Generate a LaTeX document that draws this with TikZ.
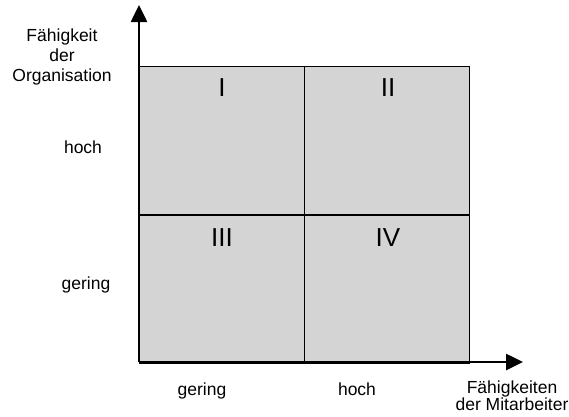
\documentclass[tikz,border=0pt]{standalone}
\usepackage{fontspec}
\setmainfont{Liberation Sans}
\usetikzlibrary{arrows.meta}
\begin{document}
\begin{tikzpicture}[x=1pt,y=-1pt,
  cell/.style={draw=black, line width=0.9pt, fill=cellgray, minimum width=165pt, minimum height=148pt, inner sep=0pt, anchor=north west},
  axis/.style={line width=2.6pt, -{Triangle[length=17pt,width=16pt]}},
  lbl/.style={font=\fontsize{17.5}{20}\selectfont, align=center, inner sep=0pt},
  num/.style={font=\fontsize{26}{30}\selectfont, inner sep=0pt}]
\definecolor{cellgray}{RGB}{212,212,212}
\useasboundingbox (0,0) rectangle (569,416);
\node[cell] (c1) at (139,66) {};
\node[cell] (c2) at (304,66) {};
\node[cell] (c3) at (139,215) {};
\node[cell] (c4) at (304,215) {};
\node[num] (n1) at (222,88) {I};
\node[num] (n2) at (388,88) {II};
\node[num] (n3) at (222,237.5) {III};
\node[num] (n4) at (388,237.5) {IV};
\coordinate (o) at (139,362);
\coordinate (xt) at (523,362);
\coordinate (yt) at (139,5);
\draw[axis] (o) -- (xt);
\draw[axis] (o) -- (yt);
\node[lbl] (yl) at (62,57) {Fähigkeit\\der\\Organisation};
\node[lbl, anchor=base] (yh) at (83,153) {hoch};
\node[lbl, anchor=base] (yg) at (86,289) {gering};
\node[lbl, anchor=base] (xg) at (202,395) {gering};
\node[lbl, anchor=base] (xh) at (357,395) {hoch};
\node[lbl, font=\fontsize{17.5}{17}\selectfont] (xl) at (512,395.5) {Fähigkeiten\\der Mitarbeiter};
\end{tikzpicture}
\end{document}
